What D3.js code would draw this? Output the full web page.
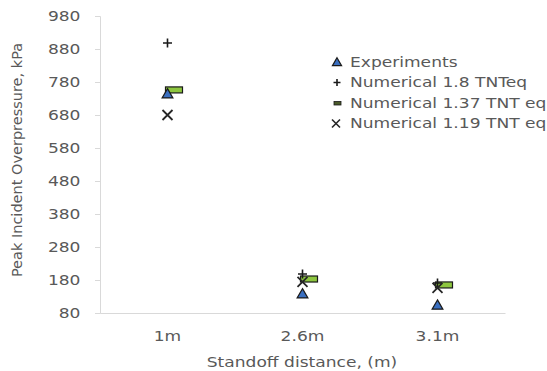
<!DOCTYPE html>
<html>
<head>
<meta charset="utf-8">
<script src="https://cdn.jsdelivr.net/npm/d3@7"></script>
<style>
  body { margin: 0; background: #fff; }
  text { font-family: "DejaVu Sans", sans-serif; fill: #595959; }
</style>
</head>
<body>
<svg id="chart" width="547" height="371"></svg>
<script>
var categories = ['1m', '2.6m', '3.1m'];
var experiments = [741, 135, 101];
var tnt180 = [898, 198, 171];
var tnt137 = [756, 183, 165];
var tnt119 = [680, 174, 156];
var yTicks = [80, 180, 280, 380, 480, 580, 680, 780, 880, 980];
var legendLabels = ['Experiments', 'Numerical 1.8 TNTeq', 'Numerical 1.37 TNT eq', 'Numerical 1.19 TNT eq'];

var svg = d3.select('#chart');
var plotLeft = 100, plotRight = 505, plotTop = 16, plotBottom = 313;
var STRETCH = 'scale(1.22,1)'; // the reference text is drawn wide

var x = d3.scaleBand().domain(categories).range([plotLeft, plotRight]).padding(0);
var y = d3.scaleLinear().domain([80, 980]).range([plotBottom, plotTop]);

// y axis
var yAxis = svg.append('g').attr('transform', 'translate(' + plotLeft + ',0)')
  .call(d3.axisLeft(y).tickValues(yTicks).tickSize(5).tickPadding(11).tickFormat(d3.format('d')));
yAxis.select('.domain').attr('stroke', '#d9d9d9');
yAxis.selectAll('.tick line').attr('stroke', '#d9d9d9');
yAxis.selectAll('.tick text').style('font-size', '14px').attr('fill', '#595959')
  .attr('transform', STRETCH);

// x axis
var xAxis = svg.append('g').attr('transform', 'translate(0,' + plotBottom + ')')
  .call(d3.axisBottom(x).tickSize(0).tickPadding(18));
xAxis.select('.domain').attr('stroke', '#d9d9d9');
xAxis.selectAll('.tick text').style('font-size', '14px').attr('fill', '#595959')
  .attr('transform', STRETCH);

// axis titles
svg.append('text')
  .attr('transform', 'translate(22,160) rotate(-90)')
  .attr('text-anchor', 'middle')
  .style('font-size', '14.5px')
  .text('Peak Incident Overpressure, kPa');
svg.append('text')
  .attr('transform', 'translate(302,367) ' + STRETCH)
  .attr('text-anchor', 'middle')
  .style('font-size', '14px')
  .text('Standoff distance, (m)');

function cx(i) { return x(categories[i]) + x.bandwidth() / 2; }

var triangle = d3.symbol().type(d3.symbolTriangle).size(50);

// green bars (1.37 TNT eq)
svg.append('g').selectAll('rect').data(tnt137).enter().append('rect')
  .attr('x', function(d, i) { return cx(i) - 2; })
  .attr('y', function(d) { return y(d) - 3; })
  .attr('width', 17).attr('height', 6)
  .attr('fill', '#8dc63f').attr('stroke', '#1a1a1a').attr('stroke-width', 1.2);

// experiments triangles
svg.append('g').selectAll('path').data(experiments).enter().append('path')
  .attr('d', triangle)
  .attr('transform', function(d, i) { return 'translate(' + cx(i) + ',' + y(d) + ')'; })
  .attr('fill', '#3a6fc0').attr('stroke', '#1a1a1a').attr('stroke-width', 1.2);

// pluses (1.8 TNTeq)
svg.append('g').selectAll('path').data(tnt180).enter().append('path')
  .attr('d', 'M-4.5,0H4.5M0,-4.5V4.5')
  .attr('transform', function(d, i) { return 'translate(' + cx(i) + ',' + y(d) + ')'; })
  .attr('stroke', '#1a1a1a').attr('stroke-width', 1.6);

// crosses (1.19 TNT eq)
svg.append('g').selectAll('path').data(tnt119).enter().append('path')
  .attr('d', 'M-5,-5L5,5M-5,5L5,-5')
  .attr('transform', function(d, i) { return 'translate(' + cx(i) + ',' + y(d) + ')'; })
  .attr('stroke', '#262626').attr('stroke-width', 1.8);

// legend
var legend = svg.append('g').attr('transform', 'translate(335,62)');
var rowH = 20.5;
legend.selectAll('text').data(legendLabels).enter().append('text')
  .attr('transform', function(d, i) { return 'translate(15,' + i * rowH + ') ' + STRETCH; })
  .attr('dy', '0.35em')
  .style('font-size', '14px')
  .attr('fill', '#404040')
  .text(function(d) { return d; });
legend.append('path').attr('d', d3.symbol().type(d3.symbolTriangle).size(36))
  .attr('transform', 'translate(2,1)')
  .attr('fill', '#3a6fc0').attr('stroke', '#1a1a1a').attr('stroke-width', 1.2);
legend.append('path').attr('d', 'M-3.5,0H3.5M0,-3.5V3.5')
  .attr('transform', 'translate(2,' + rowH + ')')
  .attr('stroke', '#1a1a1a').attr('stroke-width', 1.6);
legend.append('rect').attr('x', -1).attr('y', rowH * 2 - 1.5).attr('width', 7).attr('height', 3.5)
  .attr('fill', '#4a5a2a').attr('stroke', '#1a1a1a').attr('stroke-width', 0.8);
legend.append('path').attr('d', 'M-4,-4L4,4M-4,4L4,-4')
  .attr('transform', 'translate(1,' + rowH * 3 + ')')
  .attr('stroke', '#262626').attr('stroke-width', 1.6);
</script>
</body>
</html>
